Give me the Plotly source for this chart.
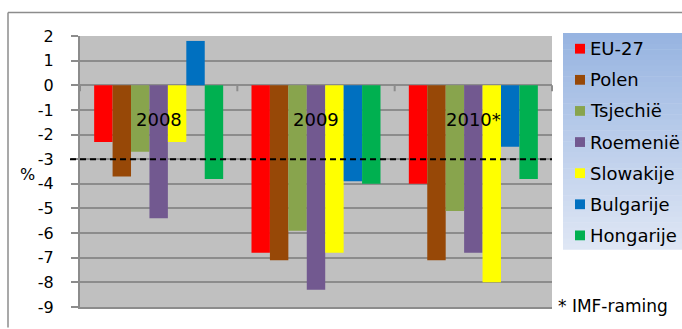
import plotly.graph_objects as go

years = ["2008", "2009", "2010*"]
countries = ["EU-27", "Polen", "Tsjechië", "Roemenië", "Slowakije", "Bulgarije", "Hongarije"]
colors = ["#FF0000", "#974807", "#88A44D", "#725990", "#FFFF00", "#0070C0", "#00B050"]
eu27 = [-2.3, -6.8, -4.0]
polen = [-3.7, -7.1, -7.1]
tsjechie = [-2.7, -5.9, -5.1]
roemenie = [-5.4, -8.3, -6.8]
slowakije = [-2.3, -6.8, -8.0]
bulgarije = [1.8, -3.9, -2.5]
hongarije = [-3.8, -4.0, -3.8]
series = [eu27, polen, tsjechie, roemenie, slowakije, bulgarije, hongarije]
y_ticks = list(range(-9, 3))
y_tick_text = [str(v) for v in y_ticks]
norm = -3
footnote = "* IMF-raming"

W, H = 682, 329
L, R, T, B = 80, 130, 36, 16
PW, PH = W - L - R, H - T - B
def px(x):
    return (x - L) / PW
def py(y):
    return (H - B - y) / PH

FONT = "DejaVu Sans"
fig = go.Figure()
for name, vals, col in zip(countries, series, colors):
    fig.add_trace(go.Bar(x=years, y=vals, name=name, marker=dict(color=col, line=dict(width=0)),
                         showlegend=False))

shapes = []
# chart outer border
shapes.append(dict(type="line", xref="paper", yref="paper", x0=px(8), x1=px(W + 5), y0=py(12), y1=py(12),
                   line=dict(color="#8C8C8C", width=1.5)))
shapes.append(dict(type="line", xref="paper", yref="paper", x0=px(8), x1=px(8), y0=py(12), y1=py(H + 5),
                   line=dict(color="#8C8C8C", width=1.5)))
# category ticks on the zero line
for i in range(len(years) + 1):
    xp = i / len(years)
    shapes.append(dict(type="line", xref="paper", yref="y", ysizemode="pixel", yanchor=0,
                       x0=xp, x1=xp, y0=0, y1=-6,
                       line=dict(color="#8C8C8C", width=2)))
# dashed norm line
shapes.append(dict(type="line", xref="paper", yref="y", x0=px(70), x1=1, y0=norm, y1=norm,
                   line=dict(color="black", width=2, dash="6px,4px"), layer="above"))
# legend background gradient
top_c = (151, 180, 225)
bot_c = (222, 230, 244)
lx0, lx1, ly0, ly1 = 563, W + 5, 33, 254
n = 40
for k in range(n):
    t = k / (n - 1)
    c = tuple(round(a + (b - a) * t) for a, b in zip(top_c, bot_c))
    ya = ly0 + (ly1 - ly0) * k / n
    yb = ly0 + (ly1 - ly0) * (k + 1) / n
    shapes.append(dict(type="rect", xref="paper", yref="paper", x0=px(lx0), x1=px(lx1),
                       y0=py(ya), y1=py(yb + 0.5), line=dict(width=0),
                       fillcolor="rgb(%d,%d,%d)" % c, layer="below"))

annotations = []
# legend entries
for i, (name, col) in enumerate(zip(countries, colors)):
    cy = 49 + i * 31.8
    shapes.append(dict(type="rect", xref="paper", yref="paper", x0=px(575), x1=px(585),
                       y0=py(cy - 5), y1=py(cy + 5), line=dict(width=0), fillcolor=col))
    annotations.append(dict(text=name, xref="paper", yref="paper", x=px(588), y=py(cy),
                            xanchor="left", yanchor="middle", showarrow=False,
                            font=dict(family=FONT, size=18, color="black")))
# category labels (category axis: position = category index)
for i, yr in enumerate(years):
    annotations.append(dict(text=yr, xref="x", yref="y", x=i, y=-1.37, xanchor="center",
                            yanchor="middle", showarrow=False,
                            font=dict(family=FONT, size=18, color="black")))
annotations.append(dict(text="%", xref="paper", yref="paper", x=px(27), y=py(178), xanchor="center",
                        yanchor="middle", showarrow=False, font=dict(family=FONT, size=16, color="black")))
annotations.append(dict(text=footnote, xref="paper", yref="paper", x=px(556), y=py(312), xanchor="left",
                        yanchor="middle", showarrow=False, font=dict(family=FONT, size=17, color="black")))

fig.update_layout(
    width=W, height=H, margin=dict(l=L, r=R, t=T, b=B),
    paper_bgcolor="white", plot_bgcolor="#C0C0C0",
    barmode="group", bargap=0.18, bargroupgap=0,
    showlegend=False,
    shapes=shapes, annotations=annotations,
    xaxis=dict(type="category", categoryorder="array", categoryarray=years,
               range=[-0.5, len(years) - 0.5],
               showticklabels=False, showgrid=False, zeroline=False, showline=True,
               linecolor="#8C8C8C", linewidth=2, ticks=""),
    yaxis=dict(range=[-9, 2], tickvals=y_ticks, ticktext=y_tick_text, showgrid=True,
               gridcolor="#8C8C8C", gridwidth=2,
               zeroline=True, zerolinecolor="#8C8C8C", zerolinewidth=2,
               showline=True, linecolor="#8C8C8C", linewidth=2,
               ticks="outside", ticklen=7, tickcolor="#8C8C8C", tickwidth=2,
               ticklabelstandoff=14,
               tickfont=dict(family=FONT, size=16, color="black")),
)
fig.write_html("out.html")
